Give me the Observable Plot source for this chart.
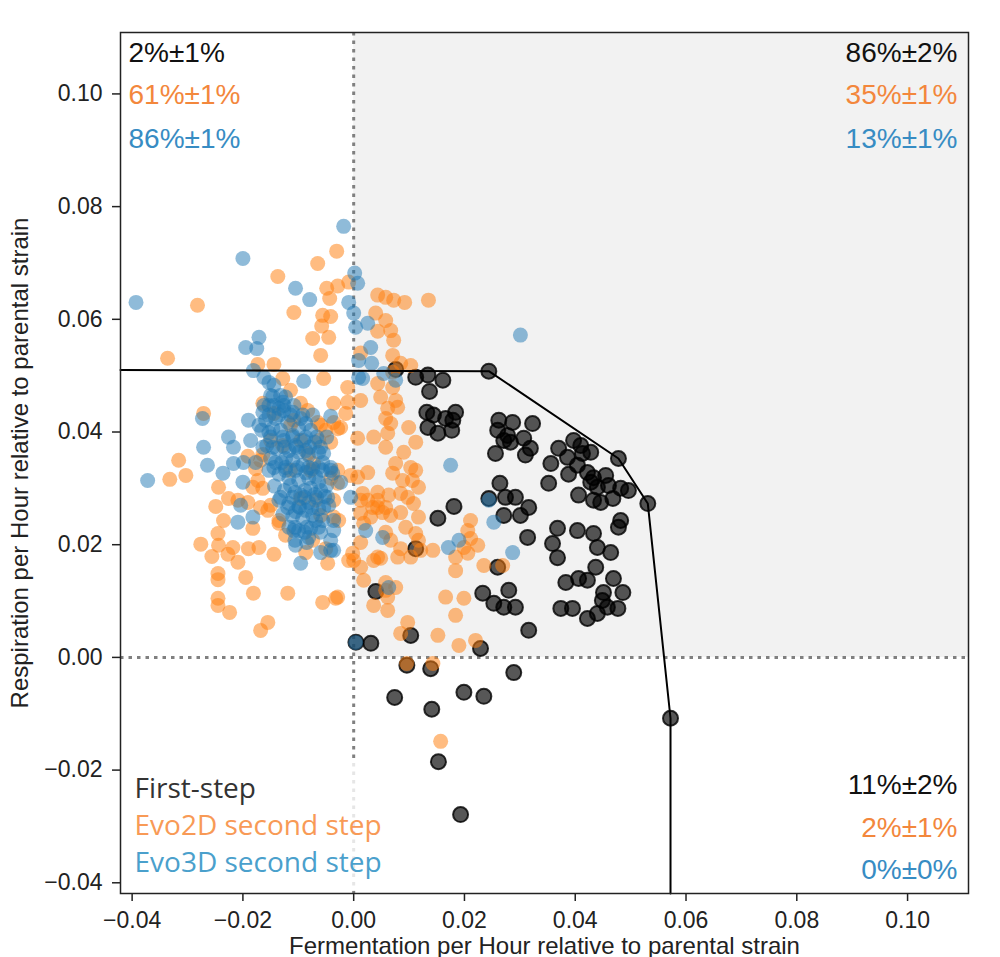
<!DOCTYPE html>
<html>
<head>
<meta charset="utf-8">
<script src="https://cdn.jsdelivr.net/npm/d3@7"></script>
<script src="https://cdn.jsdelivr.net/npm/@observablehq/plot@0.6"></script>
<style>
  html, body { margin: 0; padding: 0; background: #fff; }
  #chart { width: 1000px; height: 957px; overflow: hidden; }
</style>
</head>
<body>
<div id="chart"></div>
<script>
// ---------- axes ----------
const xDomain = [-0.0421, 0.1110];
const yDomain = [-0.0419, 0.1109];
const xTicks = [-0.04, -0.02, 0, 0.02, 0.04, 0.06, 0.08, 0.10];
const yTicks = [-0.04, -0.02, 0, 0.02, 0.04, 0.06, 0.08, 0.10];
const xLabel = "Fermentation per Hour relative to parental strain";
const yLabel = "Respiration per Hour relative to parental strain";

// ---------- First-step (black) ----------
const firstX = [0.0244,0.0076,0.0112,0.0134,0.0161,0.0137,0.0132,0.0144,0.0166,0.0184,
  0.0179,0.0134,0.0152,0.0177,0.0262,0.0287,0.0323,0.0260,0.0278,0.0271,
  0.0283,0.0307,0.0319,0.0310,0.0256,0.0397,0.0410,0.0370,0.0386,0.0413,
  0.0428,0.0356,0.0388,0.0404,0.0422,0.0433,0.0455,0.0478,0.0428,0.0440,
  0.0460,0.0482,0.0496,0.0406,0.0433,0.0446,0.0468,0.0531,0.0352,0.0264,
  0.0274,0.0292,0.0316,0.0301,0.0271,0.0244,0.0181,0.0152,0.0482,0.0478,
  0.0368,0.0404,0.0433,0.0314,0.0359,0.0440,0.0368,0.0464,0.0437,0.0260,
  0.0112,0.0406,0.0422,0.0383,0.0469,0.0451,0.0486,0.0449,0.0374,0.0395,
  0.0422,0.0440,0.0458,0.0477,0.0233,0.0280,0.0253,0.0271,0.0292,0.0316,
  0.0040,0.0103,0.0004,0.0031,0.0229,0.0096,0.0139,0.0289,0.0074,0.0199,
  0.0235,0.0141,0.0572,0.0153,0.0193];
const firstY = [0.0508,0.0511,0.0497,0.0501,0.0492,0.0472,0.0435,0.0430,0.0424,0.0435,
  0.0421,0.0408,0.0398,0.0403,0.0421,0.0417,0.0415,0.0403,0.0394,0.0385,
  0.0382,0.0389,0.0371,0.0359,0.0362,0.0385,0.0376,0.0371,0.0355,0.0362,
  0.0364,0.0344,0.0325,0.0341,0.0328,0.0319,0.0323,0.0353,0.0311,0.0302,
  0.0305,0.0300,0.0296,0.0288,0.0279,0.0275,0.0282,0.0273,0.0309,0.0309,
  0.0284,0.0284,0.0266,0.0252,0.0252,0.0282,0.0268,0.0247,0.0243,0.0231,
  0.0229,0.0225,0.0220,0.0213,0.0202,0.0195,0.0177,0.0186,0.0160,0.0160,
  0.0193,0.0140,0.0137,0.0133,0.0140,0.0115,0.0115,0.0101,0.0087,0.0087,
  0.0069,0.0078,0.0089,0.0087,0.0114,0.0119,0.0096,0.0089,0.0089,0.0048,
  0.0117,0.0039,0.0027,0.0025,0.0016,-0.0014,-0.0020,-0.0027,-0.0071,-0.0062,
  -0.0069,-0.0092,-0.0108,-0.0185,-0.0279];

// ---------- Evo2D second step (orange) ----------
const evo2dX = [-0.00307,-0.00650,-0.0137,-0.0282,-0.0336,-0.00487,-0.00289,-0.00090,-0.00433,-0.00560,
  -0.00415,-0.0108,-0.00578,-0.00740,-0.00451,-0.00596,-0.0144,-0.0173,-0.00542,-0.0128,
  0.00433,0.00578,0.00722,0.00397,0.00578,0.00433,0.00668,0.00722,0.00704,0.00126,
  -0.00108,0.00126,0.00433,0.00704,0.00487,0.00614,0.00578,-0.0114,-0.00957,-0.00830,
  -0.00650,-0.00361,-0.00108,-0.00144,-0.00289,-0.00505,-0.0108,-0.0144,-0.0164,-0.0271,
  0.00072,0.00614,0.00758,0.00848,0.0103,0.00704,0.00794,0.00668,0.00993,0.0112,
  0.00903,0.00758,0.0103,0.0112,0.00704,0.00253,-0.00054,0.00884,0.0106,0.0117,
  -0.00289,0.00162,0.00433,0.00632,0.00848,0.00975,0.0108,0.00253,0.00343,0.00433,
  0.00523,0.00126,0.00307,0.00668,0.00848,0.0117,0.00181,0.00939,0.0211,0.0206,
  0.00578,0.0112,0.00126,0.0117,0.0211,0.00848,0.0121,0.0143,0.0199,0.0224,
  0.00361,0.00487,0.0103,0.0184,0.0206,0.0000,0.00126,0.00181,0.00578,0.0184,
  0.0235,0.0269,0.00614,-0.00289,0.00361,0.0166,0.0199,0.0184,0.00975,0.00848,
  0.0152,0.0190,0.0220,0.00957,0.0143,0.0157,-0.0316,-0.0332,-0.0303,-0.0244,
  -0.0249,-0.0235,-0.0226,-0.0209,-0.0191,-0.0173,-0.0182,-0.0164,-0.0177,-0.0168,
  -0.0191,-0.0276,-0.0256,-0.0245,-0.0244,-0.0227,-0.0209,-0.0218,-0.0190,-0.0171,
  -0.0144,-0.0182,-0.0135,-0.0168,-0.0155,-0.0195,-0.0245,-0.0245,-0.0181,-0.0119,
  -0.0245,-0.0245,-0.0224,-0.0155,-0.0168,-0.00560,-0.00325,-0.00469,-0.00505,-0.00361,
  -0.00361,-0.00271,-0.00415,-0.00289,-0.00722,-0.00830,-0.00632,-0.00415,-0.00361,-0.00235,
  -0.00596,-0.00018,-0.00090,0.00578,0.00433,0.00072,0.00433,0.00578,0.00126,0.00614,
  0.00758,0.00668,0.00794,0.00361,0.00578,-0.0128,-0.00957,-0.0114,-0.0150,0.00921,
  0.0135,-0.0164,-0.0150,-0.0135,-0.00686,-0.00596,-0.00776,-0.00957,-0.0114,-0.0123,
  -0.00866,-0.00740];
const evo2dY = [0.0721,0.0699,0.0676,0.0625,0.0531,0.0655,0.0659,0.0666,0.0637,0.0607,
  0.0605,0.0612,0.0588,0.0566,0.0568,0.0536,0.0520,0.0520,0.0495,0.0495,
  0.0643,0.0639,0.0634,0.0611,0.0598,0.0579,0.0580,0.0563,0.0536,0.0540,
  0.0479,0.0456,0.0486,0.0479,0.0462,0.0442,0.0424,0.0474,0.0451,0.0438,
  0.0417,0.0451,0.0453,0.0433,0.0406,0.0403,0.0421,0.0433,0.0451,0.0433,
  0.0389,0.0398,0.0456,0.0522,0.0518,0.0506,0.0444,0.0415,0.0408,0.0382,
  0.0364,0.0344,0.0337,0.0332,0.0327,0.0328,0.0323,0.0314,0.0314,0.0302,
  0.0309,0.0291,0.0293,0.0288,0.0291,0.0284,0.0273,0.0279,0.0266,0.0266,
  0.0257,0.0256,0.0249,0.0252,0.0257,0.0249,0.0238,0.0231,0.0243,0.0225,
  0.0222,0.0220,0.0204,0.0208,0.0211,0.0193,0.0190,0.0190,0.0195,0.0199,
  0.0172,0.0176,0.0178,0.0178,0.0185,0.0172,0.0160,0.0137,0.0133,0.0154,
  0.0163,0.0163,0.0107,0.0107,0.00923,0.0107,0.0105,0.00746,0.00621,0.00426,
  0.00391,0.00213,0.00302,-0.00107,-0.00107,-0.0149,0.0350,0.0316,0.0323,0.0302,
  0.0268,0.0243,0.0282,0.0279,0.0275,0.0314,0.0302,0.0300,0.0335,0.0350,
  0.0357,0.0201,0.0179,0.0220,0.0199,0.0183,0.0169,0.0195,0.0193,0.0195,
  0.0183,0.0229,0.0238,0.0266,0.0261,0.0142,0.0149,0.0138,0.0114,0.0114,
  0.0105,0.00923,0.00799,0.00621,0.00479,0.00976,0.0105,0.0167,0.0193,0.0249,
  0.0279,0.0243,0.0318,0.0332,0.0344,0.0362,0.0385,0.0382,0.0417,0.0408,
  0.0412,0.0185,0.0172,0.0119,0.0178,0.0320,0.0279,0.0266,0.0279,0.00834,
  0.0124,0.0208,0.0178,0.0391,0.0373,0.0376,0.0282,0.0332,0.0270,0.0630,
  0.0634,0.0360,0.0385,0.0243,0.0279,0.0252,0.0332,0.0385,0.0412,0.0217,
  0.0186,0.0208];

// ---------- Evo3D second step (blue) ----------
const evo3dX = [-0.00181,-0.0200,-0.0393,-0.0105,-0.00794,0.00018,0.00072,-0.00090,0.0000,0.00036,
  0.00253,-0.0171,-0.0195,-0.0175,0.00307,0.00325,0.00090,-0.0181,-0.0162,-0.0153,
  -0.0144,-0.00903,0.00162,0.00542,-0.0123,-0.0126,-0.0273,-0.0190,-0.0166,-0.0226,
  -0.0186,-0.00415,-0.00866,-0.0271,-0.0217,0.0301,0.0175,0.0244,0.0253,0.0287,
  0.0190,0.0171,0.00523,0.00217,-0.00054,-0.00235,-0.00379,0.00632,0.00036,0.00090,
  0.00758,-0.00361,-0.00361,-0.0372,-0.0264,-0.0236,-0.0217,-0.0200,-0.0199,-0.0177,
  -0.0204,-0.0182,-0.0209,-0.0108,-0.0105,-0.00812,-0.00596,-0.00415,-0.00957,-0.00415,
  -0.00560,-0.00542,-0.0128,-0.00361,-0.00415,
  -0.0153,-0.0135,-0.0110,-0.00957,-0.0159,-0.0141,-0.0119,-0.00993,-0.00776,-0.0153,
  -0.0132,-0.0110,-0.00903,-0.00704,-0.0157,-0.0139,-0.0117,-0.00993,-0.00812,-0.00632,
  -0.0150,-0.0130,-0.0110,-0.00921,-0.00740,-0.00560,-0.0153,-0.0135,-0.0117,-0.00993,
  -0.00812,-0.00632,-0.00487,-0.0143,-0.0125,-0.0106,-0.00884,-0.00704,-0.00523,-0.0135,
  -0.0117,-0.00993,-0.00812,-0.00632,-0.00451,-0.0128,-0.0110,-0.00921,-0.00740,-0.00560,
  -0.0117,-0.00993,-0.00776,-0.00596,-0.0106,-0.00848,-0.0146,-0.0164,-0.0171,
  -0.0126,-0.0105,-0.00866,-0.0123,-0.0105,-0.00866,-0.00686,-0.0114,-0.00957,-0.00776,
  -0.00596,-0.0105,-0.00866,-0.00686,-0.00884,-0.0146,-0.0123,-0.0141,
  -0.0150,-0.0132,
  -0.0162,-0.0144,-0.0126,-0.0108,
  -0.0153,-0.0135,-0.0114,-0.00921,-0.00740,
  -0.0150,-0.0128,-0.0110,-0.00866,-0.00668,-0.00487,
  -0.0164,-0.0146,-0.0125,-0.0103,-0.00794,-0.00596,
  -0.0144,-0.0123,-0.0101,-0.00812,-0.00632,-0.00415,
  -0.0132,-0.0110,-0.00884,-0.00668,-0.00469,
  -0.0119,-0.00975,-0.00758,-0.00542,
  -0.0106,-0.00848,-0.00632];
const evo3dY = [0.0765,0.0708,0.0630,0.0655,0.0635,0.0682,0.0664,0.0630,0.0611,0.0586,
  0.0593,0.0568,0.0550,0.0548,0.0550,0.0522,0.0527,0.0509,0.0497,0.0488,
  0.0483,0.0490,0.0495,0.0504,0.0462,0.0438,0.0424,0.0421,0.0403,0.0391,
  0.0385,0.0428,0.0415,0.0373,0.0373,0.0572,0.0341,0.0279,0.0240,0.0186,
  0.0208,0.0195,0.0213,0.0225,0.0284,0.0311,0.0327,0.0124,0.00266,0.0497,
  0.0492,0.0243,0.0190,0.0314,0.0341,0.0327,0.0344,0.0311,0.0346,0.0346,
  0.0270,0.0249,0.0240,0.0225,0.0199,0.0213,0.0186,0.0190,0.0167,0.0332,
  0.0346,0.0362,0.0453,0.0225,0.0208,
  0.0447,0.0442,0.0435,0.0424,0.0421,0.0424,0.0417,0.0406,0.0403,0.0399,
  0.0403,0.0394,0.0385,0.0382,0.0376,0.0371,0.0367,0.0364,0.0359,0.0364,
  0.0353,0.0346,0.0350,0.0341,0.0335,0.0332,0.0332,0.0325,0.0318,0.0314,
  0.0318,0.0311,0.0305,0.0304,0.0296,0.0293,0.0296,0.0289,0.0286,0.0279,
  0.0273,0.0268,0.0275,0.0264,0.0270,0.0254,0.0250,0.0247,0.0252,0.0243,
  0.0231,0.0225,0.0229,0.0222,0.0208,0.0204,0.0463,0.0435,0.0412,
  0.0385,0.0376,0.0367,0.0332,0.0332,0.0328,0.0321,0.0305,0.0288,0.0300,
  0.0296,0.0259,0.0261,0.0243,0.0222,0.0406,0.0353,0.0346,
  0.0465,0.0465,
  0.0447,0.0447,0.0447,0.0447,
  0.0430,0.0430,0.0430,0.0430,0.0430,
  0.0391,0.0391,0.0391,0.0391,0.0391,0.0391,
  0.0373,0.0373,0.0373,0.0373,0.0373,0.0373,
  0.0337,0.0337,0.0337,0.0337,0.0337,0.0337,
  0.0284,0.0284,0.0284,0.0284,0.0284,
  0.0266,0.0266,0.0266,0.0266,
  0.0231,0.0231,0.0231];

// ---------- frontier line ----------
const frontierX = [-0.0421, 0.0244, 0.0478, 0.0531, 0.0572, 0.0572];
const frontierY = [0.0510, 0.0508, 0.0353, 0.0273, -0.0108, -0.0419];

// ---------- texts ----------
const seriesNames = ["First-step", "Evo2D second step", "Evo3D second step"];
const upperLeftPct = ["2%±1%", "61%±1%", "86%±1%"];
const upperRightPct = ["86%±2%", "35%±1%", "13%±1%"];
const lowerRightPct = ["11%±2%", "2%±1%", "0%±0%"];
const pctColors = ["#111111", "#f3873c", "#378cc3"];
const legendColors = ["#333333", "#f89a56", "#4aa0cc"];

// ---------- build tables ----------
const first = firstX.map((x, i) => ({x, y: firstY[i]}));
const evo2d = evo2dX.map((x, i) => ({x, y: evo2dY[i]}));
const evo3d = evo3dX.map((x, i) => ({x, y: evo3dY[i]}));
const frontier = frontierX.map((x, i) => ({x, y: frontierY[i]}));
const quadrant = [{x1: 0, x2: xDomain[1], y1: 0, y2: yDomain[1]}];

const rowDyTop = [29.7, 71.5, 115];
const rowDyBottom = [-100, -57, -15];
const legendDy = [-96, -59, -22];

function textRows(labels, colors, dys, opts) {
  return labels.map((t, i) => Plot.text([t], {
    text: d => d, fill: colors[i], dy: dys[i], lineAnchor: "bottom", ...opts
  }));
}

function legendBox(index, scales, values, dims) {
  const r = document.createElementNS("http://www.w3.org/2000/svg", "rect");
  const bottom = dims.height - dims.marginBottom;
  r.setAttribute("x", dims.marginLeft + 2);
  r.setAttribute("y", bottom - 134);
  r.setAttribute("width", 272);
  r.setAttribute("height", 132);
  r.setAttribute("fill", "white");
  r.setAttribute("fill-opacity", 0.8);
  return r;
}

const chart = Plot.plot({
  width: 1000,
  height: 957,
  marginLeft: 120,
  marginRight: 32,
  marginTop: 32,
  marginBottom: 64,
  x: {domain: xDomain},
  y: {domain: yDomain},
  style: {fontFamily: "'Liberation Sans', Arial, sans-serif", fontSize: "23px", color: "#222", background: "white", overflow: "visible"},
  marks: [
    Plot.rect(quadrant, {x1: "x1", x2: "x2", y1: "y1", y2: "y2", fill: "#f2f2f2"}),
    Plot.ruleX([0], {stroke: "#808080", strokeWidth: 3, strokeDasharray: "3.5,5"}),
    Plot.ruleY([0], {stroke: "#808080", strokeWidth: 3, strokeDasharray: "3.5,5"}),
    Plot.dot(first, {x: "x", y: "y", r: 7.5, fill: "#000", fillOpacity: 0.66, stroke: "#000", strokeOpacity: 0.8, strokeWidth: 2}),
    Plot.dot(evo2d, {x: "x", y: "y", r: 7.5, fill: "#ff7f0e", fillOpacity: 0.52, stroke: "none"}),
    Plot.dot(evo3d, {x: "x", y: "y", r: 7.5, fill: "#1f77b4", fillOpacity: 0.5, stroke: "none"}),
    Plot.line(frontier, {x: "x", y: "y", stroke: "#000", strokeWidth: 2}),
    legendBox,
    Plot.frame({stroke: "#222", strokeWidth: 1.5}),
    Plot.axisX({ticks: xTicks, tickSize: 8, tickPadding: 10, tickFormat: d3.format(".2f"), label: null, strokeWidth: 1.5, fontSize: 23}),
    Plot.axisY({ticks: yTicks, tickSize: 8, tickPadding: 10, tickFormat: d3.format(".2f"), label: null, strokeWidth: 1.5, fontSize: 23}),
    ...textRows(upperLeftPct, pctColors, rowDyTop, {frameAnchor: "top-left", textAnchor: "start", dx: 8, fontSize: 28}),
    ...textRows(upperRightPct, pctColors, rowDyTop, {frameAnchor: "top-right", textAnchor: "end", dx: -11, fontSize: 28}),
    ...textRows(lowerRightPct, pctColors, rowDyBottom, {frameAnchor: "bottom-right", textAnchor: "end", dx: -11, fontSize: 28}),
    ...textRows(seriesNames, legendColors, legendDy, {frameAnchor: "bottom-left", textAnchor: "start", dx: 14, fontSize: 28, fontFamily: "'Open Sans', sans-serif"}),
    Plot.text([xLabel], {text: d => d, frameAnchor: "bottom", textAnchor: "middle", dy: 60, lineAnchor: "bottom", fontSize: 24, fill: "#222"}),
    Plot.text([yLabel], {text: d => d, frameAnchor: "left", textAnchor: "middle", dx: -100, rotate: -90, lineAnchor: "middle", fontSize: 24, fill: "#222"})
  ]
});
document.getElementById("chart").appendChild(chart);
</script>
</body>
</html>
